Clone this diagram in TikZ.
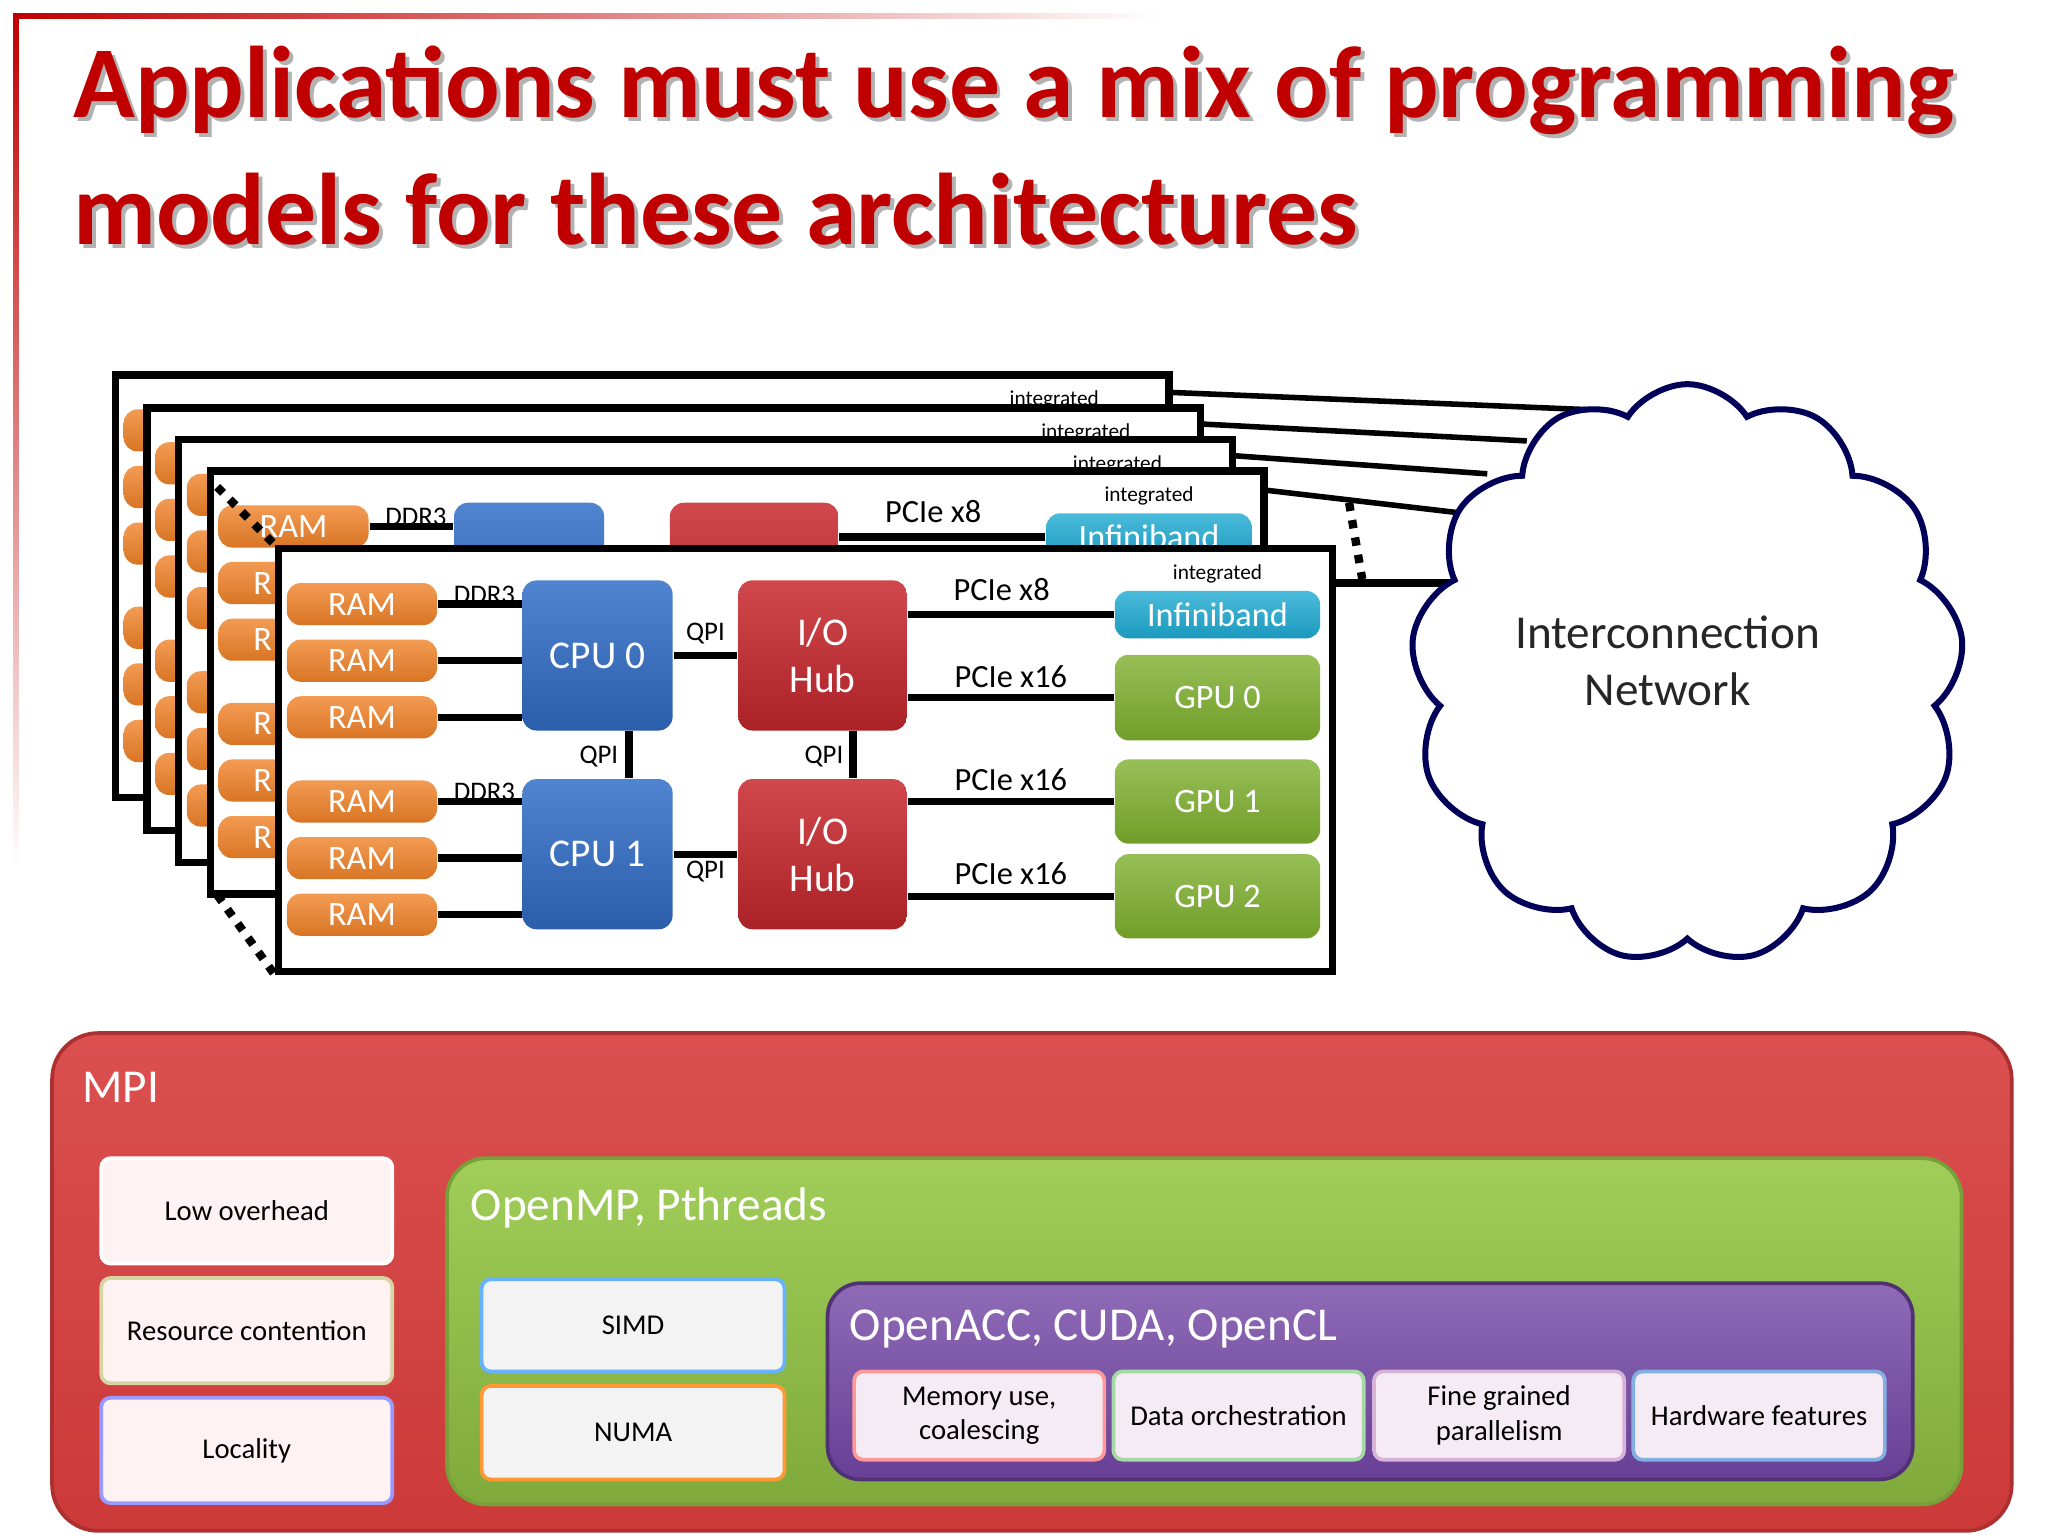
\documentclass[tikz,border=0pt]{standalone}
\usepackage{fontspec}
\setmainfont{Carlito}
\usetikzlibrary{shapes.symbols}
\newcommand\fs[1]{\fontsize{#1}{\dimexpr#1pt*6/5\relax}\selectfont}
\definecolor{tred}{RGB}{192,0,0}
\definecolor{ramO}{RGB}{240,130,40}
\definecolor{cpuB}{RGB}{50,110,200}
\definecolor{hubR}{RGB}{200,40,45}
\definecolor{ibT}{RGB}{30,170,210}
\definecolor{gpuG}{RGB}{125,175,45}
\definecolor{mpiR}{RGB}{215,60,60}
\definecolor{ompG}{RGB}{150,200,70}
\definecolor{accP}{RGB}{115,70,165}
\tikzset{
 x=0.01cm,y=-0.01cm,
 board/.style={draw=black,line width=1.6pt,fill=white,minimum width=8cm,minimum height=3.21cm,inner sep=0},
 hw/.style={rounded corners=3pt,inner sep=0,text=white,align=center},
 ram/.style={hw,top color=ramO!80!white,bottom color=ramO!90!black,minimum width=1.14cm,minimum height=0.32cm,font=\fs{7.4}},
 cpu/.style={hw,top color=cpuB!85!white,bottom color=cpuB!85!black,minimum width=1.14cm,minimum height=1.14cm,font=\fs{8.5}},
 hub/.style={hw,top color=hubR!85!white,bottom color=hubR!85!black,minimum width=1.28cm,minimum height=1.14cm,font=\fs{8.5}},
 ib/.style={hw,top color=ibT!80!white,bottom color=ibT!90!black,minimum width=1.56cm,minimum height=0.36cm,font=\fs{7.4}},
 gpu/.style={hw,top color=gpuG!80!white,bottom color=gpuG!90!black,minimum width=1.56cm,font=\fs{7.4}},
 conn/.style={line width=1.6pt,black},
 lbl/.style={font=\fs{5.8},inner sep=1pt},
 small/.style={font=\fs{4.6},inner sep=0},
 lbox/.style={fill=white,rounded corners=2pt,inner sep=1pt,align=center,font=\fs{6.2},line width=0.8pt},
 dots/.style={line width=1.8pt,dotted},
 ttl/.style={anchor=west,font=\fs{22}\bfseries,inner sep=0},
}
% #1 = 0: back board (only visible parts), 1: partly visible board, 2: front board
\newcommand\boardC[1]{%
 \node[board] (bd) at (612,577.5) {};
 \ifnum#1=0
  \foreach \i/\y in {1/459,2/502,3/545,4/609,5/652,6/695} \node[ram] (r\i) at (275,\y) {};
 \else
  \foreach \i/\y in {1/459,2/502,3/545,4/609,5/652,6/695} \node[ram] (r\i) at (275,\y) {\ifnum#1=1 \ifnum\i=1 RAM\else R\hspace{1.8em}\fi\else RAM\fi};
 \fi
 \ifnum#1>0
 \node[cpu] (c0) at (454,498) {\ifnum#1=2 CPU 0\fi};
 \node[cpu] (c1) at (454,649) {\ifnum#1=2 CPU 1\fi};
 \node[hub] (h0) at (625,498) {\ifnum#1=2 I/O\\Hub\fi};
 \node[hub] (h1) at (625,649) {\ifnum#1=2 I/O\\Hub\fi};
 \node[ib] (ib) at (925,467) {Infiniband};
 \node[gpu,minimum height=0.65cm] (g0) at (925,530) {\ifnum#1=2 GPU 0\fi};
 \node[gpu,minimum height=0.64cm] (g1) at (925,609) {\ifnum#1=2 GPU 1\fi};
 \node[gpu,minimum height=0.64cm] (g2) at (925,681) {\ifnum#1=2 GPU 2\fi};
 \foreach \i in {1,2,3} \draw[conn] (r\i) -- (r\i -| c0.west);
 \foreach \i in {4,5,6} \draw[conn] (r\i) -- (r\i -| c1.west);
 \draw[conn] (c0) -- (h0);
 \draw[conn] (c1) -- (h1);
 \draw[conn] ([xshift=0.24cm]c0.south) -- ([xshift=0.24cm]c1.north);
 \draw[conn] ([xshift=0.23cm]h0.south) -- ([xshift=0.23cm]h1.north);
 \draw[conn] (h0.east |- ib) -- (ib);
 \draw[conn] (h0.east |- g0) -- (g0);
 \draw[conn] (h1.east |- g1) -- (g1);
 \draw[conn] (h1.east |- g2) -- (g2);
 \node[lbl] (d0) at (368,452) {DDR3};
 \node[lbl,font=\fs{7}] (p0) at (761,448) {PCIe x8};
 \fi
 \ifnum#1=2
 \node[lbl] (d1) at (368,602) {DDR3};
 \node[lbl] (q0) at (536,481) {QPI};
 \node[lbl] (q1) at (536,662) {QPI};
 \node[lbl] (q2) at (455,575) {QPI};
 \node[lbl] (q3) at (626,575) {QPI};
 \node[lbl,font=\fs{7}] (p1) at (768,514) {PCIe x16};
 \node[lbl,font=\fs{7}] (p2) at (768,592) {PCIe x16};
 \node[lbl,font=\fs{7}] (p3) at (768,664) {PCIe x16};
 \fi
 \node[small] (it) at (925,436) {integrated};
}
\begin{document}
\begin{tikzpicture}
\useasboundingbox (0,0) rectangle (1556,1167);
\fill[white] (0,0) rectangle (1556,1167);
% frame
\shade[left color=tred,right color=white] (10,10) rectangle (880,14);
\shade[top color=tred,bottom color=white] (10,10) rectangle (14,660);
% title
\node[ttl,text=gray!60] (tsh1) at (58,72) {Applications must use a mix of programming};
\node[ttl,text=gray!60] (tsh2) at (58,162) {models for these architectures};
\node[ttl,text=tred] (t1) at (55,69) {Applications must use a mix of programming};
\node[ttl,text=tred] (t2) at (55,159) {models for these architectures};
% boards
\coordinate (e1) at (1225,312);
\coordinate (e2) at (1160,335);
\coordinate (e3) at (1130,360);
\coordinate (e4) at (1112,390);
\coordinate (e5) at (1112,443);
\begin{scope}[shift={(-124,-132)},name prefix=b1-] \boardC{0} \end{scope}
\draw[conn,line width=1.2pt] (886,298) -- (e1);
\begin{scope}[shift={(-100,-107)},name prefix=b2-] \boardC{0} \end{scope}
\draw[conn,line width=1.2pt] (910,322) -- (e2);
\begin{scope}[shift={(-76,-83)},name prefix=b3-] \boardC{0} \end{scope}
\draw[conn,line width=1.2pt] (934,346) -- (e3);
\begin{scope}[shift={(-52,-59)},name prefix=b4-] \boardC{1} \end{scope}
\draw[conn,line width=1.2pt] (958,372) -- (e4);
\boardC{2}
\draw[conn] (bd.east |- e5) -- (e5);
\draw[dots] (165,370) -- (bd.north west);
\draw[dots] (165,680) -- (bd.south west);
\draw[dots] (1025,382) -- (1035,440);
% cloud
\node[cloud,cloud puffs=13,cloud puff arc=115,draw=blue!35!black,fill=white,line width=1.3pt,minimum width=4.2cm,minimum height=4.4cm] (net) at (1282,512) {};
\node[align=center,font=\fs{10.2},text=black!85] (netl) at (1267,502) {Interconnection\\Network};
% bottom
\node[rounded corners=0.35cm,top color=mpiR!90!white,bottom color=mpiR!95!black,minimum width=14.88cm,minimum height=3.78cm,draw=mpiR!80!black,line width=0.8pt] (mpi) at (784,974) {};
\node[anchor=west,text=white,font=\fs{10.2},inner sep=0] (mpil) at (62,826) {MPI};
\node[lbox,fill=red!5!white,draw=white,minimum width=2.21cm,minimum height=0.8cm] (lo) at (187.5,920) {Low overhead};
\node[lbox,fill=red!5!white,draw=yellow!40!gray!60,minimum width=2.21cm,minimum height=0.8cm] (rc) at (187.5,1011) {Resource contention};
\node[lbox,fill=red!5!white,draw=blue!40!white,minimum width=2.21cm,minimum height=0.8cm] (lc) at (187.5,1102) {Locality};
\node[rounded corners=0.3cm,top color=ompG!90!white,bottom color=ompG!85!black,draw=ompG!80!black,line width=0.8pt,minimum width=11.5cm,minimum height=2.63cm] (omp) at (915,1011.5) {};
\node[anchor=west,text=white,font=\fs{10.2},inner sep=0] (ompl) at (357,918) {OpenMP, Pthreads};
\node[lbox,fill=green!5!gray!10,draw=blue!50!cyan!60,minimum width=2.3cm,minimum height=0.7cm] (simd) at (481,1007) {SIMD};
\node[lbox,fill=green!5!gray!10,draw=orange!80,minimum width=2.3cm,minimum height=0.71cm] (numa) at (481,1088.5) {NUMA};
\node[rounded corners=0.25cm,top color=accP!80!white,bottom color=accP!90!black,draw=accP!70!black,line width=0.8pt,minimum width=8.24cm,minimum height=1.49cm] (acc) at (1041,1049.5) {};
\node[anchor=west,text=white,font=\fs{10.2},inner sep=0] (accl) at (645,1010) {OpenACC, CUDA, OpenCL};
\node[lbox,fill=violet!8!white,draw=red!40!white,minimum width=1.9cm,minimum height=0.67cm] (m1) at (744,1075.5) {Memory use,\\coalescing};
\node[lbox,fill=violet!8!white,draw=green!40!gray!50,minimum width=1.9cm,minimum height=0.67cm] (m2) at (941,1075.5) {Data orchestration};
\node[lbox,fill=violet!8!white,draw=violet!30!white,minimum width=1.9cm,minimum height=0.67cm] (m3) at (1139,1075.5) {Fine grained\\parallelism};
\node[lbox,fill=violet!8!white,draw=cyan!60!blue!50,minimum width=1.91cm,minimum height=0.67cm] (m4) at (1336.5,1075.5) {Hardware features};
\end{tikzpicture}
\end{document}
